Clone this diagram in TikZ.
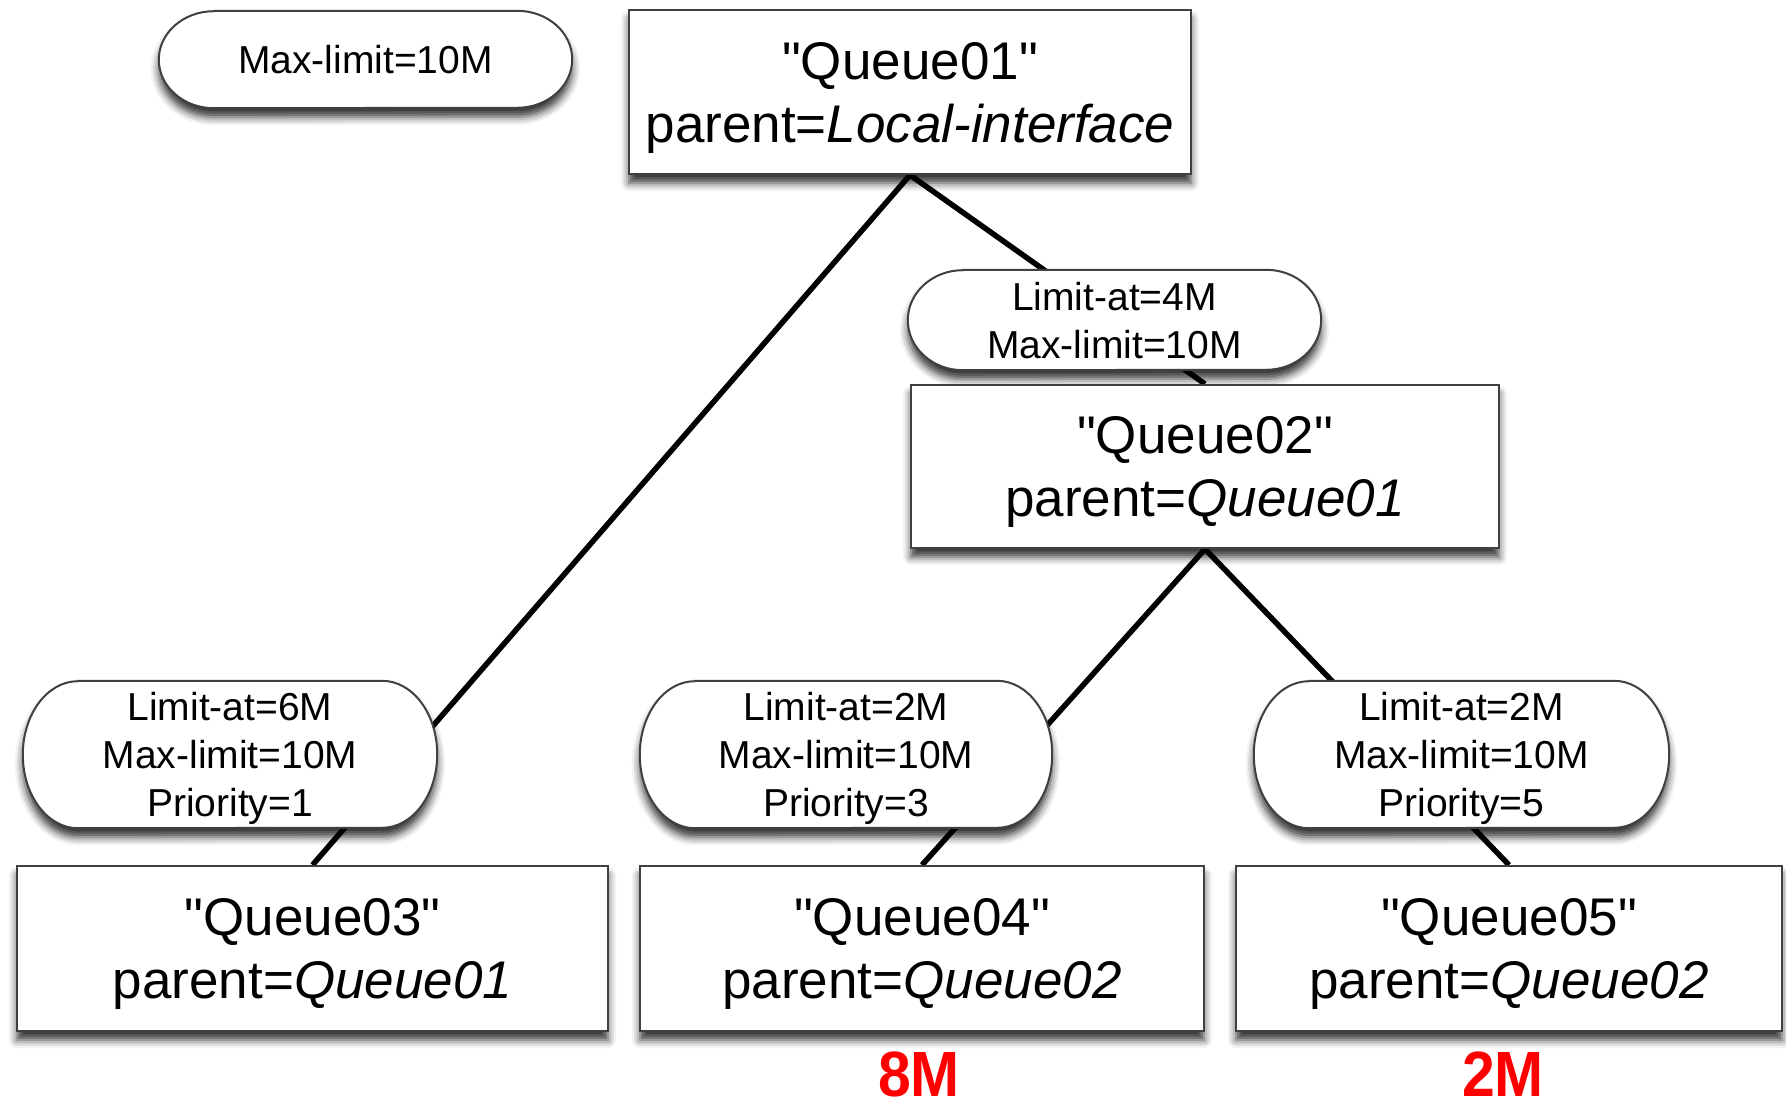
\documentclass[tikz,border=0pt]{standalone}
\usepackage{fontspec}
\setmainfont{Liberation Sans}
\usetikzlibrary{shadows.blur}

\pgfdeclarelayer{links}
\pgfdeclarelayer{shells}
\pgfsetlayers{links,shells,main}

\tikzset{
  softshadow/.style={blur shadow={shadow xshift=0pt, shadow yshift=-9pt,
      shadow blur radius=8pt, shadow opacity=80}},
  queue/.style={draw=black!75, line width=2pt, fill=white, softshadow,
      inner sep=0pt, minimum width=#1, minimum height=164pt,
      align=center, text depth=0pt, font=\fontsize{53}{63}\selectfont},
  limits/.style={inner sep=0pt, minimum width=413pt, minimum height=#1,
      align=center, text depth=0pt, font=\fontsize{39}{48}\selectfont},
  pillline/.style={draw=black!75, line width=2pt, fill=white, softshadow},
  link/.style={line width=5.5pt, black},
  rate/.style={text=red, font=\fontsize{64}{64}\selectfont\bfseries}
}

% straight double quote
\newcommand\dq{\textquotedbl}

% rounded capsule drawn round a limits node: #1 node name, #2 half height
\newcommand\pillshape[2]{%
  \path[pillline] ([xshift=55pt]#1.north west) -- ([xshift=-55pt]#1.north east)
    arc[start angle=90, end angle=-90, x radius=55pt, y radius=#2]
    -- ([xshift=55pt]#1.south west)
    arc[start angle=270, end angle=90, x radius=55pt, y radius=#2] -- cycle;}

\begin{document}
\begin{tikzpicture}[x=1pt, y=-1pt]
\useasboundingbox (0,0) rectangle (1786,1110);

% queue boxes
\node[queue=562pt] (q1) at (910,92) {\dq Queue01\dq\\parent=\textit{Local-interface}};
\node[queue=588pt, minimum height=163pt] (q2) at (1205,466.5) {\dq Queue02\dq\\parent=\textit{Queue01}};
\node[queue=591pt, minimum height=165pt] (q3) at (312.5,948.5) {\dq Queue03\dq\\parent=\textit{Queue01}};
\node[queue=564pt, minimum height=165pt] (q4) at (922,948.5) {\dq Queue04\dq\\parent=\textit{Queue02}};
\node[queue=546pt, minimum height=165pt] (q5) at (1509,948.5) {\dq Queue05\dq\\parent=\textit{Queue02}};

% limit capsules
\node[limits=97pt] (pmax) at (365.5,59.5) {Max-limit=10M};
\node[limits=100pt] (p2) at (1114.5,320) {Limit-at=4M\\Max-limit=10M};
\node[limits=147pt, minimum width=414pt] (p3) at (230,754.5) {Limit-at=6M\\Max-limit=10M\\Priority=1};
\node[limits=147pt, minimum width=412pt] (p4) at (846,754.5) {Limit-at=2M\\Max-limit=10M\\Priority=3};
\node[limits=147pt, minimum width=415pt] (p5) at (1461.5,754.5) {Limit-at=2M\\Max-limit=10M\\Priority=5};

\begin{pgfonlayer}{shells}
  \pillshape{pmax}{48.5pt}
  \pillshape{p2}{50pt}
  \pillshape{p3}{73.5pt}
  \pillshape{p4}{73.5pt}
  \pillshape{p5}{73.5pt}
\end{pgfonlayer}

% parent links
\begin{pgfonlayer}{links}
  \draw[link] (q1.south) -- (q2.north);
  \draw[link] (q1.south) -- (q3.north);
  \draw[link] (q2.south) -- (q4.north);
  \draw[link] (q2.south) -- (q5.north);
\end{pgfonlayer}

% resulting rates
\node[rate] (r4) at (919,1074) {\scalebox{0.92}[1]{8M}};
\node[rate] (r5) at (1503,1074) {\scalebox{0.92}[1]{2M}};
\end{tikzpicture}
\end{document}
